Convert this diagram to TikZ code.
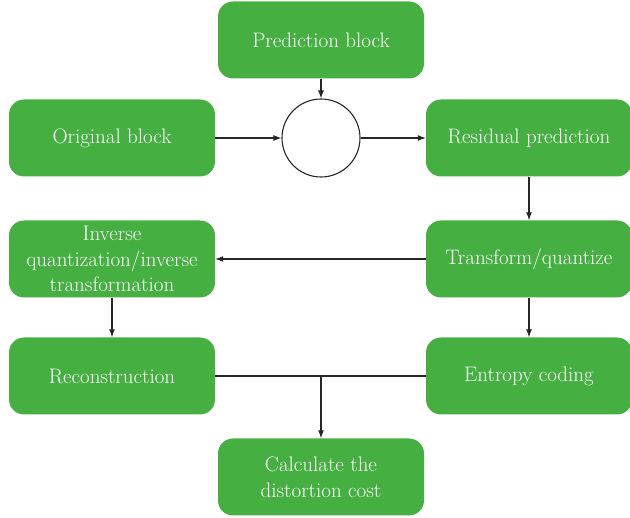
\documentclass[tikz,border=0pt]{standalone}
\usepackage{tikz}
\usetikzlibrary{arrows.meta}
\usepackage{fix-cm}
\definecolor{boxgreen}{RGB}{69,176,65}

\tikzset{
	blockbox/.style={fill=boxgreen, rounded corners=15pt, minimum width=206pt, minimum height=77pt, text=white, align=center, font=\fontsize{21}{25.5}\selectfont, inner sep=2pt},
	sumcircle/.style={circle, draw=black!85, line width=1.1pt, fill=white, minimum size=78pt, inner sep=0pt},
	flow/.style={draw=black!85, line width=1.1pt, -{Latex[length=8pt,width=6pt]}}
}

\begin{document}
\begin{tikzpicture}[x=1pt,y=-1pt]
	\useasboundingbox (0,0) rectangle (630,518);

	\node[blockbox] (pred) at (321,40) {Prediction block};
	\node[blockbox] (orig) at (112,138) {Original block};
	\node[sumcircle] (sum) at (321,138) {};
	\node[blockbox] (resid) at (529,138) {Residual prediction};
	\node[blockbox] (invq) at (112,259) {Inverse\\quantization/inverse\\transformation};
	\node[blockbox] (tq) at (529,259) {Transform/quantize};
	\node[blockbox] (recon) at (112,376) {Reconstruction};
	\node[blockbox] (entropy) at (529,376) {Entropy coding};
	\node[blockbox] (cost) at (321,477) {Calculate the\\distortion cost};
	\coordinate (join) at (321,376);

	\draw[flow] (pred) -- (sum);
	\draw[flow] (orig) -- (sum);
	\draw[flow] (sum) -- (resid);
	\draw[flow] (resid) -- (tq);
	\draw[flow] (tq) -- (invq);
	\draw[flow] (invq) -- (recon);
	\draw[flow] (tq) -- (entropy);
	\draw[draw=black!85, line width=1.1pt] (recon) -- (entropy);
	\draw[flow] (join) -- (cost);

\end{tikzpicture}
\end{document}
